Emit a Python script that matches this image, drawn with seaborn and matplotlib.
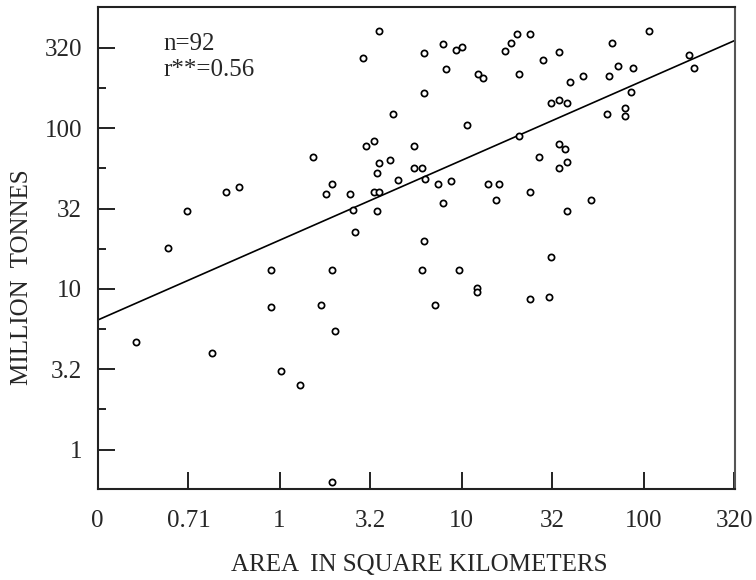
import matplotlib
matplotlib.use("Agg")
import matplotlib.pyplot as plt
from matplotlib.ticker import FixedLocator, FixedFormatter, NullFormatter
import numpy as np
import pandas as pd
import seaborn as sns

# values (area in km2, mass in million tonnes)
area = [0.163, 0.243, 0.309, 0.428, 0.508, 0.600, 0.893, 0.893, 1.016, 1.292,
        1.528, 1.686, 1.803, 1.936, 1.936, 1.936, 2.012, 2.44, 2.535, 2.613,
        2.891, 2.987, 3.306, 3.322, 3.42, 3.42, 3.539, 3.539, 3.539, 4.046,
        4.185, 4.46, 5.46, 5.46, 6.04, 6.04, 6.25, 6.25, 6.27, 6.25,
        7.12, 7.39, 7.88, 7.91, 8.18, 8.75, 9.32, 9.68, 10.01, 10.7,
        12.2, 12.2, 12.26, 13.06, 13.96, 15.44, 16.05, 17.25, 18.77, 20.14,
        20.58, 20.58, 23.86, 23.86, 23.86, 26.5, 28.2, 30.2, 31.1, 31.1,
        34.5, 34.5, 34.5, 34.5, 36.9, 38.1, 38.2, 38.2, 39.4, 46.6,
        51.3, 62.8, 65.0, 67.5, 72.2, 79.6, 79.6, 85.5, 88.0, 107.8,
        178.6, 190.3]
mass = [4.66, 17.9, 30.6, 3.99, 40.1, 43.3, 13.1, 7.69, 3.09, 2.53,
        66.3, 7.99, 38.8, 45.0, 13.1, 0.632, 5.46, 38.8, 30.9, 22.6,
        275, 77.3, 40.1, 83.4, 52.7, 30.7, 403, 61.1, 40.1, 63.5,
        122.7, 47.5, 77.3, 56.9, 56.9, 13.1, 295, 166.5, 48.6, 20.0,
        7.99, 45.2, 34.4, 335, 234, 46.8, 307, 13.1, 320, 104.8,
        10.19, 9.54, 218.7, 206.5, 45.2, 35.6, 45.2, 302.7, 341, 388,
        218.7, 89.5, 388, 40.3, 8.63, 66.3, 265, 8.96, 143, 15.9,
        297, 149.4, 80.2, 56.9, 74.3, 30.7, 143, 61.4, 195, 210.7,
        35.9, 122.7, 210.7, 338, 245, 133.2, 118.8, 167.5, 236, 405,
        287, 236]

# regression line end points as drawn
fit_area = [0.1, 316]
fit_mass = [6.4, 351]

x_ticks = [0.1, 0.316, 1, 3.16, 10, 31.6, 100, 316]
x_labels = ["0", "0.71", "1", "3.2", "10", "32", "100", "320"]
y_ticks = [1, 3.16, 10, 31.6, 100, 316]
y_labels = ["1", "3.2", "10", "32", "100", "320"]
y_minor = [1.78, 5.62, 17.8, 56.2, 178]

df = pd.DataFrame({"area": area, "mass": mass})
fit = pd.DataFrame({"area": fit_area, "mass": fit_mass})

sns.set_style("ticks")
plt.rcParams["font.family"] = ["Liberation Serif", "DejaVu Serif"]

fig = plt.figure(figsize=(7.56, 5.8), dpi=100)
ax = fig.add_axes([0.129, 0.1564, 0.8426, 0.8321])

sns.lineplot(data=fit, x="area", y="mass", color="black", linewidth=1.2, ax=ax)
sns.scatterplot(data=df, x="area", y="mass", marker="o", s=20,
                facecolor="white", edgecolor="black", linewidth=1.25, ax=ax,
                zorder=3)

ax.set_xscale("log")
ax.set_yscale("log")
ax.set_xlim(0.1, 316.3)
ax.set_ylim(0.567, 571)

ax.xaxis.set_major_locator(FixedLocator(x_ticks))
ax.xaxis.set_major_formatter(FixedFormatter(x_labels))
ax.xaxis.set_minor_locator(FixedLocator([]))
ax.xaxis.set_minor_formatter(NullFormatter())
ax.yaxis.set_major_locator(FixedLocator(y_ticks))
ax.yaxis.set_major_formatter(FixedFormatter(y_labels))
ax.yaxis.set_minor_locator(FixedLocator(y_minor))
ax.yaxis.set_minor_formatter(NullFormatter())

ax.tick_params(axis="both", which="major", direction="in", length=12,
               width=1.4, labelsize=18, color="#222222")
ax.tick_params(axis="y", which="minor", direction="in", length=6,
               width=1.4, color="#222222")
ax.tick_params(axis="y", which="major", pad=11)
ax.tick_params(axis="x", which="major", pad=15)

for side in ["left", "right", "top", "bottom"]:
    ax.spines[side].set_linewidth(1.5)
    ax.spines[side].set_color("#222222")
ax.spines["right"].set_color("#555555")

ax.set_xlabel("AREA  IN SQUARE KILOMETERS", fontsize=18, va="center")
ax.xaxis.set_label_coords(0.5055, -0.157)
ax.set_ylabel("MILLION  TONNES", fontsize=18, va="center")
ax.yaxis.set_label_coords(-0.118, 0.439)

ax.text(0.103, 0.910, "n=92", transform=ax.transAxes, fontsize=18,
        va="baseline", ha="left")
ax.text(0.103, 0.857, "r**=0.56", transform=ax.transAxes, fontsize=18,
        va="baseline", ha="left")

fig.savefig("out.png", dpi=100)
